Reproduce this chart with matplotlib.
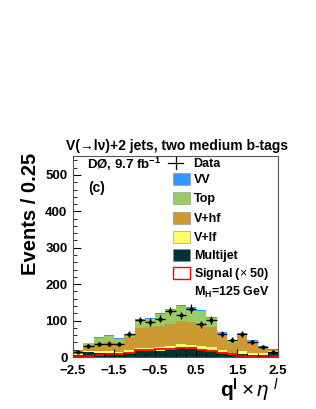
import numpy as np
import matplotlib
matplotlib.use("Agg")
import matplotlib.pyplot as plt
from matplotlib.patches import Rectangle
from matplotlib.ticker import MultipleLocator

plt.rcParams['font.family'] = ['Liberation Sans', 'DejaVu Sans']
plt.rcParams['mathtext.fontset'] = 'custom'
plt.rcParams['mathtext.rm'] = 'Liberation Sans'
plt.rcParams['mathtext.bf'] = 'Liberation Sans:bold'
plt.rcParams['mathtext.it'] = 'Liberation Sans:italic'

# binning: q x eta, 20 bins of 0.25
edges = np.linspace(-2.5, 2.5, 21)

# stack components (bottom -> top), events per bin
multijet = [5, 13, 12, 10, 9, 12, 17, 16, 17, 19, 24, 21, 19, 16, 11, 6, 8, 6, 5, 14]
v_lf = [3, 4, 5, 6, 6, 6, 8, 9, 10, 11, 13, 12, 11, 12, 8, 6, 8, 6, 5, 2]
v_hf = [10, 16, 22, 26, 24, 36, 54, 57, 58, 60, 62, 62, 63, 54, 38, 26, 42, 28, 14, 3]
top = [1, 5, 14, 17, 10, 5, 21, 23, 32, 38, 40, 38, 33, 26, 10, 5, 5, 5, 3, 1]
vv = [1, 1, 2, 2, 2, 2, 3, 3, 3, 4, 4, 3, 3, 3, 3, 2, 2, 2, 2, 1]

data = [14, 30, 35, 37, 35, 63, 101, 96, 105, 126, 114, 133, 90, 102, 63, 48, 63, 41, 27, 13]
signal_x50 = [2, 4, 6, 7, 7, 10, 19, 20, 21, 23, 26, 26, 19, 17, 12, 7, 4, 4, 2, 2]

names = ['Multijet', 'V+lf', 'V+hf', 'Top', 'VV']
colors = ['#003333', '#ffff66', '#cc9933', '#99cc66', '#3399ff']

W, H = 316, 409
fig = plt.figure(figsize=(W / 100, H / 100), dpi=100)
ax = fig.add_axes([73 / W, 1 - 357 / H, 205 / W, 201 / H])

base = np.zeros(len(data))
for vals, c in zip([multijet, v_lf, v_hf, top, vv], colors):
    top_edge = base + np.array(vals)
    ax.stairs(top_edge, edges, baseline=base, fill=True, color=c, lw=0)
    base = top_edge

ax.stairs(signal_x50, edges, color='red', lw=1.3)

centers = 0.5 * (edges[1:] + edges[:-1])
d = np.array(data)
ax.errorbar(centers, d, yerr=np.sqrt(d), xerr=0.125, fmt='o', ms=2,
            color='black', elinewidth=0.9, capsize=0)

ax.set_xlim(-2.5, 2.5)
ax.set_ylim(0, 552)
ax.set_xticks(np.arange(-2.5, 2.6, 1.0))
ax.xaxis.set_minor_locator(MultipleLocator(0.25))
ax.yaxis.set_major_locator(MultipleLocator(100))
ax.yaxis.set_minor_locator(MultipleLocator(20))
ax.tick_params(which='both', direction='in', top=False, right=False,
               labelsize=9.5)
ax.tick_params(axis='y', pad=4)
ax.tick_params(axis='x', pad=6)
ax.tick_params(which='major', length=6)
ax.tick_params(which='minor', length=3)
for lab in ax.get_xticklabels() + ax.get_yticklabels():
    lab.set_fontweight('bold')
for s in ax.spines.values():
    s.set_linewidth(0.8)
    s.set_color('#555555')

def fx(px):
    return px / W

def fy(py):
    return 1 - py / H

fig.text(fx(177), fy(150), 'V(→lν)+2 jets, two medium b-tags',
         ha='center', va='baseline', fontsize=10, fontweight='bold')
fig.text(fx(31), fy(153), 'Events / 0.25', rotation=90, ha='center', va='top',
         fontsize=14.5, fontweight='bold')
fig.text(fx(279), fy(398), r'$\mathbf{q}^{\mathbf{l}}\times\eta^{\ l}$',
         ha='right', va='baseline', fontsize=15)

fig.text(fx(87), fy(169), r'DØ, 9.7 fb$^{\mathbf{-1}}$', ha='left',
         va='baseline', fontsize=9.5, fontweight='bold')
fig.text(fx(88), fy(192), '(c)', ha='left', va='baseline',
         fontsize=10, fontweight='bold')

# legend
fig.lines.append(plt.Line2D([fx(168), fx(183)], [fy(163), fy(163)],
                            transform=fig.transFigure, color='black', lw=0.9))
fig.lines.append(plt.Line2D([fx(175.5), fx(175.5)], [fy(157), fy(169)],
                            transform=fig.transFigure, color='black', lw=0.9))
fig.text(fx(193), fy(167), 'Data', ha='left', va='baseline',
         fontsize=9, fontweight='bold')

rows = [179, 198, 218, 237, 255]
for name, c, py in zip(names[::-1], colors[::-1], rows):
    fig.patches.append(Rectangle((fx(173), fy(py + 6)), 17 / W, 12 / H,
                                 transform=fig.transFigure, facecolor=c,
                                 edgecolor='#888888', lw=0.4))
    fig.text(fx(194), fy(py + 4), name, ha='left', va='baseline',
             fontsize=9, fontweight='bold')
fig.patches.append(Rectangle((fx(173), fy(279)), 17 / W, 12 / H,
                             transform=fig.transFigure, facecolor='white',
                             edgecolor='red', lw=1.0))
fig.text(fx(194), fy(277), r'Signal ($\times$ 50)', ha='left', va='baseline',
         fontsize=9, fontweight='bold')
fig.text(fx(194), fy(296), r'M$_{\mathbf{H}}$=125 GeV', ha='left', va='baseline',
         fontsize=9, fontweight='bold')

fig.savefig('out.png', dpi=100)
